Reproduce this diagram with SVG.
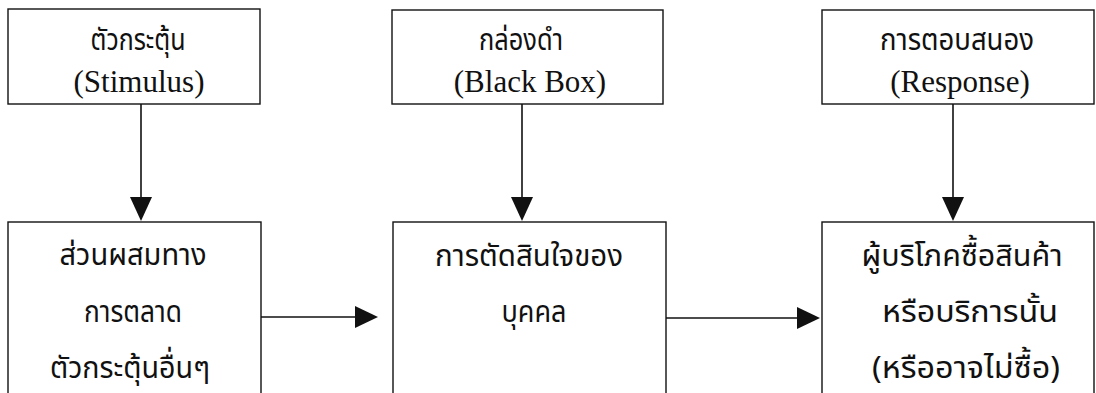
<svg xmlns="http://www.w3.org/2000/svg" width="1096" height="393" viewBox="0 0 1096 393">
<style>
.box{fill:#fff;stroke:#111;stroke-width:1.4}
.th{font-family:"Noto Sans Thai","Noto Sans",sans-serif;font-size:31px;fill:#111;text-anchor:middle}
.en{font-family:"Liberation Serif",serif;font-size:31px;fill:#111;text-anchor:middle}
.ln{stroke:#111;stroke-width:1.6;fill:none}
.ah{fill:#111}
</style>
<rect width="1096" height="393" fill="#fff"/>
<g id="stimulus">
<rect class="box" x="8" y="9" width="252" height="95"/>
<text class="th" x="138" y="50" textLength="95" lengthAdjust="spacingAndGlyphs">ตัวกระตุ้น</text>
<text class="en" x="139" y="92">(Stimulus)</text>
</g>
<g id="blackbox">
<rect class="box" x="392" y="10" width="271" height="94"/>
<text class="th" x="521" y="50" textLength="84" lengthAdjust="spacingAndGlyphs">กล่องดำ</text>
<text class="en" x="530" y="92">(Black Box)</text>
</g>
<g id="response">
<rect class="box" x="822" y="10" width="272" height="94"/>
<text class="th" x="957" y="50" textLength="154" lengthAdjust="spacingAndGlyphs">การตอบสนอง</text>
<text class="en" x="960" y="92">(Response)</text>
</g>
<g id="marketing-mix">
<rect class="box" x="8" y="222" width="253" height="180"/>
<text class="th" x="133" y="265" textLength="147" lengthAdjust="spacingAndGlyphs">ส่วนผสมทาง</text>
<text class="th" x="133" y="322" textLength="98" lengthAdjust="spacingAndGlyphs">การตลาด</text>
<text class="th" x="130" y="378" textLength="160" lengthAdjust="spacingAndGlyphs">ตัวกระตุ้นอื่นๆ</text>
</g>
<g id="decision">
<rect class="box" x="393" y="222" width="273" height="180"/>
<text class="th" x="529" y="266" textLength="188" lengthAdjust="spacingAndGlyphs">การตัดสินใจของ</text>
<text class="th" x="534" y="322" textLength="65" lengthAdjust="spacingAndGlyphs">บุคคล</text>
</g>
<g id="purchase">
<rect class="box" x="822" y="222" width="272" height="180"/>
<text class="th" x="962" y="266" textLength="201" lengthAdjust="spacingAndGlyphs">ผู้บริโภคซื้อสินค้า</text>
<text class="th" x="970" y="322" textLength="176" lengthAdjust="spacingAndGlyphs">หรือบริการนั้น</text>
<text class="th" x="966" y="378" textLength="188" lengthAdjust="spacingAndGlyphs">(หรืออาจไม่ซื้อ)</text>
</g>
<g id="connectors">
<line class="ln" x1="141" y1="104" x2="141" y2="200"/>
<polygon class="ah" points="130,197 152,197 141,221"/>
<line class="ln" x1="522" y1="104" x2="522" y2="200"/>
<polygon class="ah" points="511,197 533,197 522,221"/>
<line class="ln" x1="953" y1="104" x2="953" y2="200"/>
<polygon class="ah" points="942,197 964,197 953,221"/>
<line class="ln" x1="261" y1="317" x2="358" y2="317"/>
<polygon class="ah" points="355,306 355,328 378,317"/>
<line class="ln" x1="666" y1="318" x2="800" y2="318"/>
<polygon class="ah" points="797,307 797,329 820,318"/>
</g>
</svg>
